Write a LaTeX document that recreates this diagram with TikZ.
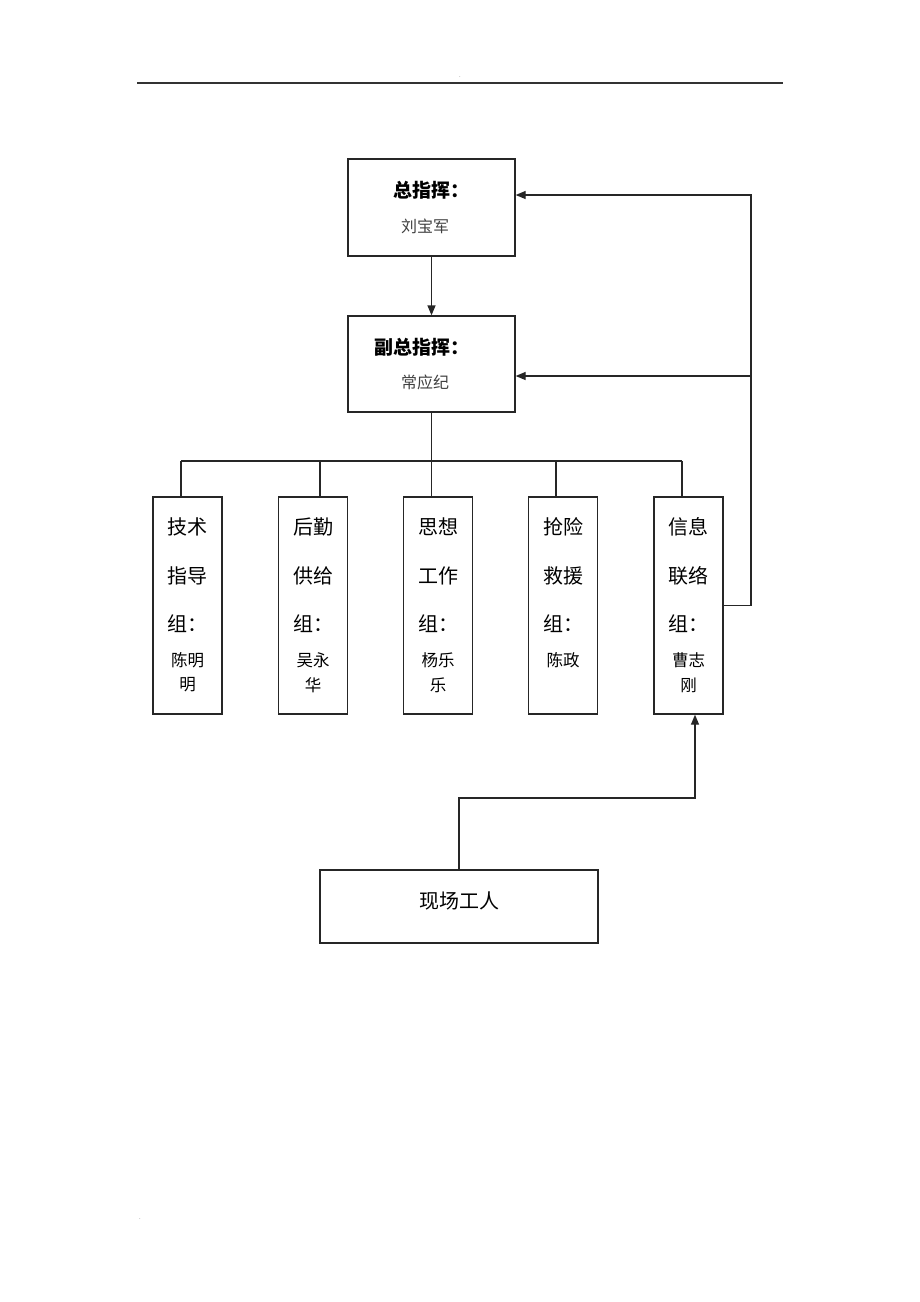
\documentclass[tikz,border=0pt]{standalone}
\usepackage{fontspec}
\setmainfont{Noto Sans CJK SC}
\usetikzlibrary{arrows.meta}
\begin{document}
\begin{tikzpicture}[x=1pt,y=-1pt,
  box/.style={draw=black!85, line width=1.3pt, inner sep=0pt},
  ln/.style={draw=black!85, line width=1.3pt},
  arr/.style={ln, -{Triangle[length=10pt,width=8pt]}},
  head/.style={inner sep=0pt, font=\fontsize{19}{19}\bfseries\selectfont},
  sub/.style={inner sep=0pt, text=black!75, font=\fontsize{16}{16}\selectfont},
  grp/.style={inner sep=0pt, font=\fontsize{20}{20}\selectfont},
  nm/.style={inner sep=0pt, font=\fontsize{16.5}{16.5}\selectfont},
  dotmark/.style={inner sep=0pt, text=black!60, font=\fontsize{6}{6}\selectfont}]
\useasboundingbox (0,0) rectangle (920,1302);
% header
\draw[line width=1.3pt, black!80] (137,83) coordinate (hl) -- (783,83) coordinate (hr);
\node[dotmark] (d1) at (460,77) {.};
\node[dotmark] (d2) at (140,1219) {.};
% top boxes
\node[box, minimum width=167pt, minimum height=97pt] (zong) at (431.5,207.5) {};
\node[head] (zongt) at (431.5,190) {总指挥：};
\node[sub] (zongn) at (425,226) {刘宝军};
\node[box, minimum width=167pt, minimum height=96pt] (fu) at (431.5,364) {};
\node[head] (fut) at (422,347) {副总指挥：};
\node[sub] (fun) at (425,382) {常应纪};
\draw[arr] (zong.south) -- (fu.north);
% group boxes
\foreach \n/\x/\a/\b/\c/\d in {g1/187.5/技术/指导/陈明/明, g2/313/后勤/供给/吴永/华, g3/438/思想/工作/杨乐/乐, g5/688.5/信息/联络/曹志/刚}{
  \node[box, minimum width=69pt, minimum height=217pt] (\n) at (\x,605.5) {};
  \node[grp] (\n a) at (\x,527) {\a};
  \node[grp] (\n b) at (\x,576) {\b};
  \node[grp] (\n c) at (\x,624) {组：};
  \node[nm] (\n d) at (\x,660) {\c};
  \node[nm] (\n e) at (\x,685) {\d};
}
\node[box, minimum width=69pt, minimum height=217pt] (g4) at (563,605.5) {};
\node[grp] (g4a) at (563,527) {抢险};
\node[grp] (g4b) at (563,576) {救援};
\node[grp] (g4c) at (563,624) {组：};
\node[nm] (g4d) at (563,660) {陈政};
% bus
\coordinate (bus) at (431.5,461);
\coordinate (t1) at (181,461);
\coordinate (t2) at (320,461);
\coordinate (t4) at (556,461);
\coordinate (t5) at (682,461);
\draw[ln] (fu.south) -- (bus);
\draw[ln] (t1) -- (t5);
\draw[ln] (t1) -- (g1.north -| t1);
\draw[ln] (t2) -- (g2.north -| t2);
\draw[ln] (bus) -- (g3.north -| bus);
\draw[ln] (t4) -- (g4.north -| t4);
\draw[ln] (t5) -- (g5.north -| t5);
% feedback
\coordinate (c1) at (751,195);
\coordinate (c2) at (751,376);
\draw[arr] (g5.east) -| (c1) -- (zong.east |- c1);
\draw[arr] (c2) -- (fu.east |- c2);
% workers
\node[box, minimum width=278pt, minimum height=73pt] (w) at (459,906.5) {};
\node[grp] (wt) at (459,901) {现场工人};
\coordinate (b1) at (459,798);
\coordinate (b2) at (695,798);
\draw[arr] (w.north) -- (b1) -- (b2) -- (b2 |- g5.south);
\end{tikzpicture}
\end{document}
